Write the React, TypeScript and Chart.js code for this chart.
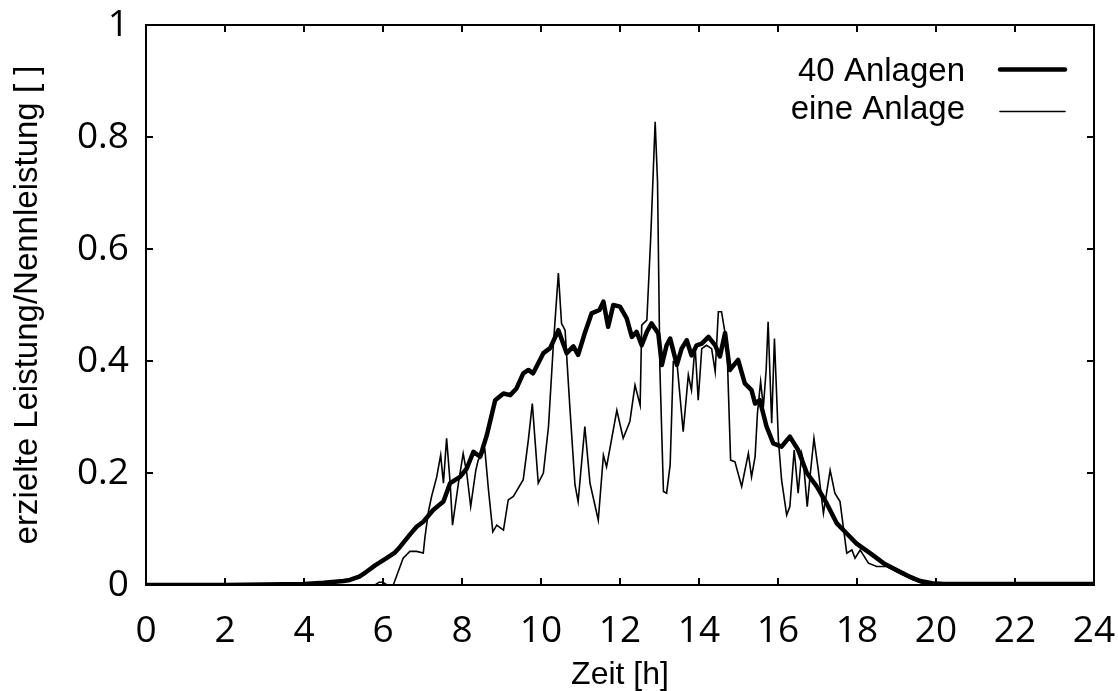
import React, { useEffect, useRef } from 'react';
import { Chart, registerables } from 'chart.js';

Chart.register(...registerables);

// 40 Anlagen (aggregated)
const hours40 = [
  0, 1, 2, 3, 4, 4.5, 5.0, 5.16, 5.4, 5.59,
  5.8, 6.09, 6.3, 6.43, 6.68, 6.85, 7.02, 7.27, 7.53, 7.7,
  7.95, 8.12, 8.29, 8.46, 8.63, 8.84, 9.05, 9.22, 9.38, 9.55,
  9.68, 9.8, 10.06, 10.23, 10.44, 10.65, 10.82, 10.94, 11.11, 11.28,
  11.48, 11.58, 11.7, 11.83, 12.0, 12.17, 12.3, 12.42, 12.55, 12.68,
  12.8, 12.97, 13.06, 13.18, 13.27, 13.44, 13.56, 13.69, 13.81, 13.94,
  14.07, 14.24, 14.41, 14.53, 14.66, 14.78, 14.99, 15.16, 15.33, 15.42,
  15.54, 15.71, 15.88, 16.09, 16.3, 16.51, 16.73, 16.98, 17.23, 17.49,
  17.74, 17.99, 18.33, 18.67, 19.0, 19.3, 19.6, 19.9, 20.2, 21,
  22, 23, 24,
];
const values40 = [
  0, 0, 0, 0.001, 0.002, 0.004, 0.007, 0.009, 0.015, 0.024,
  0.035, 0.048, 0.058, 0.068, 0.09, 0.104, 0.113, 0.134, 0.149, 0.182,
  0.193, 0.208, 0.238, 0.229, 0.268, 0.33, 0.342, 0.339, 0.351, 0.378,
  0.384, 0.378, 0.414, 0.423, 0.455, 0.414, 0.426, 0.411, 0.45, 0.485,
  0.491, 0.506, 0.461, 0.5, 0.497, 0.476, 0.443, 0.452, 0.428, 0.452,
  0.467, 0.449, 0.393, 0.428, 0.44, 0.393, 0.422, 0.437, 0.41, 0.428,
  0.431, 0.443, 0.428, 0.408, 0.45, 0.384, 0.402, 0.36, 0.348, 0.324,
  0.33, 0.283, 0.253, 0.247, 0.265, 0.241, 0.2, 0.176, 0.146, 0.11,
  0.092, 0.074, 0.057, 0.039, 0.027, 0.016, 0.007, 0.003, 0.002, 0.002,
  0.002, 0.002, 0.002,
];

// eine Anlage (single plant)
const hours1 = [
  0, 5.8, 5.9, 6.0, 6.1, 6.26, 6.51, 6.68, 6.85, 7.02,
  7.06, 7.15, 7.23, 7.36, 7.46, 7.53, 7.61, 7.7, 7.76, 7.91,
  8.03, 8.12, 8.22, 8.35, 8.41, 8.58, 8.67, 8.78, 8.88, 9.05,
  9.17, 9.3, 9.55, 9.68, 9.78, 9.93, 10.06, 10.19, 10.31, 10.44,
  10.52, 10.61, 10.73, 10.86, 10.94, 11.11, 11.24, 11.45, 11.58, 11.66,
  11.92, 12.08, 12.25, 12.38, 12.51, 12.55, 12.68, 12.78, 12.89, 12.95,
  13.01, 13.1, 13.18, 13.27, 13.35, 13.44, 13.6, 13.73, 13.81, 13.9,
  13.98, 14.07, 14.19, 14.32, 14.41, 14.49, 14.57, 14.66, 14.72, 14.8,
  14.91, 15.08, 15.25, 15.33, 15.42, 15.48, 15.56, 15.63, 15.7, 15.75,
  15.84, 15.91, 16.01, 16.09, 16.22, 16.3, 16.41, 16.51, 16.6, 16.64,
  16.74, 16.81, 16.91, 17.02, 17.15, 17.32, 17.44, 17.57, 17.74, 17.87,
  17.95, 18.08, 18.29, 18.5, 18.75, 19.1, 19.4, 19.7, 20, 24,
];
const values1 = [
  0, 0, 0.005, 0.005, 0, 0, 0.048, 0.06, 0.06, 0.057,
  0.084, 0.131, 0.158, 0.193, 0.232, 0.182, 0.262, 0.182, 0.107, 0.182,
  0.235, 0.2, 0.14, 0.205, 0.223, 0.241, 0.17, 0.095, 0.107, 0.098,
  0.152, 0.158, 0.188, 0.259, 0.324, 0.182, 0.2, 0.283, 0.426, 0.557,
  0.467, 0.455, 0.318, 0.179, 0.149, 0.283, 0.182, 0.116, 0.232, 0.211,
  0.312, 0.262, 0.292, 0.357, 0.321, 0.464, 0.473, 0.624, 0.827, 0.72,
  0.387, 0.167, 0.164, 0.215, 0.399, 0.399, 0.274, 0.375, 0.348, 0.428,
  0.33, 0.422, 0.428, 0.422, 0.381, 0.488, 0.488, 0.45, 0.4, 0.223,
  0.22, 0.176, 0.235, 0.193, 0.229, 0.307, 0.363, 0.318, 0.384, 0.47,
  0.289, 0.44, 0.259, 0.188, 0.125, 0.14, 0.241, 0.164, 0.235, 0.223,
  0.14, 0.193, 0.262, 0.205, 0.128, 0.205, 0.164, 0.149, 0.057, 0.0625,
  0.048, 0.0625, 0.039, 0.033, 0.033, 0.02, 0.01, 0.002, 0, 0,
];

const xTickLabels = ['0', '2', '4', '6', '8', '10', '12', '14', '16', '18', '20', '22', '24'];
const yTickLabels = ['0', '0.2', '0.4', '0.6', '0.8', '1'];
const seriesLabels = ['40 Anlagen', 'eine Anlage'];
const xTitle = 'Zeit [h]';
const yTitle = 'erzielte Leistung/Nennleistung [ ]';

const toPoints = (xs: number[], ys: number[]) => xs.map((x, i) => ({ x, y: ys[i] }));

const framePlugin = {
  id: 'gnuFrame',
  afterDatasetsDraw(chart: any) {
    const { ctx, chartArea: a, scales } = chart;
    ctx.save();
    ctx.strokeStyle = '#000';
    ctx.lineWidth = 2;
    ctx.strokeRect(a.left, a.top, a.right - a.left, a.bottom - a.top);
    const L = 7;
    ctx.beginPath();
    scales.x.ticks.forEach((t: any) => {
      const px = scales.x.getPixelForValue(t.value);
      ctx.moveTo(px, a.bottom);
      ctx.lineTo(px, a.bottom - L);
      ctx.moveTo(px, a.top);
      ctx.lineTo(px, a.top + L);
    });
    scales.y.ticks.forEach((t: any) => {
      const py = scales.y.getPixelForValue(t.value);
      ctx.moveTo(a.left, py);
      ctx.lineTo(a.left + L, py);
      ctx.moveTo(a.right, py);
      ctx.lineTo(a.right - L, py);
    });
    ctx.stroke();

    // legend inside plot (gnuplot style)
    ctx.font = '33px "Liberation Sans", Arial, sans-serif';
    ctx.fillStyle = '#000';
    ctx.textAlign = 'right';
    ctx.textBaseline = 'alphabetic';
    chart.data.datasets.forEach((ds: any, i: number) => {
      const base = a.top + 55.5 + i * 38;
      ctx.fillText(ds.label, a.right - 129, base);
      const ly = a.top + 44.5 + i * 42;
      ctx.beginPath();
      ctx.lineWidth = ds.borderWidth;
      ctx.lineCap = 'round';
      ctx.moveTo(a.right - 94, ly);
      ctx.lineTo(a.right - 29, ly);
      ctx.stroke();
    });
    ctx.restore();
  },
};

export default function App() {
  const canvasRef = useRef<HTMLCanvasElement | null>(null);

  useEffect(() => {
    if (!canvasRef.current) return;
    const tickFont = { family: '"Open Sans", "Noto Sans", sans-serif', size: 37 };
    const titleFont = { family: '"Liberation Sans", Arial, sans-serif', size: 32, lineHeight: 1.0 };
    const chart = new Chart(canvasRef.current, {
      type: 'line',
      data: {
        datasets: [
          {
            label: seriesLabels[0],
            data: toPoints(hours40, values40),
            borderColor: '#000',
            borderWidth: 4.5,
            pointRadius: 0,
            tension: 0,
            fill: false,
            borderJoinStyle: 'round',
            borderCapStyle: 'round',
          },
          {
            label: seriesLabels[1],
            data: toPoints(hours1, values1),
            borderColor: '#000',
            borderWidth: 1.6,
            pointRadius: 0,
            tension: 0,
            fill: false,
          },
        ],
      },
      options: {
        animation: false,
        responsive: true,
        maintainAspectRatio: false,
        layout: { padding: { top: 25, right: 24, left: 0, bottom: 0 } },
        plugins: {
          legend: { display: false },
          tooltip: { enabled: false },
        },
        scales: {
          x: {
            type: 'linear',
            min: 0,
            max: 24,
            grid: { display: false, drawTicks: false },
            border: { display: false },
            ticks: {
              stepSize: 2,
              color: '#000',
              font: tickFont,
              padding: 24,
              maxRotation: 0,
              autoSkip: false,
              callback: (_v: any, i: number) => xTickLabels[i],
            },
            title: { display: true, text: xTitle, color: '#000', font: titleFont, padding: { top: 11, bottom: 0 } },
            afterFit: (s: any) => {
              s.height = 106;
              s.paddingLeft = 0;
              s.paddingRight = 0;
            },
          },
          y: {
            type: 'linear',
            min: 0,
            max: 1,
            grid: { display: false, drawTicks: false },
            border: { display: false },
            ticks: {
              stepSize: 0.2,
              color: '#000',
              font: tickFont,
              padding: 17,
              callback: (_v: any, i: number) => yTickLabels[i],
            },
            title: {
              display: true,
              text: yTitle,
              color: '#000',
              font: { ...titleFont, size: 33 },
              padding: { top: 11, bottom: 0 },
            },
            afterFit: (s: any) => {
              s.width = 146;
              s.paddingTop = 0;
              s.paddingBottom = 0;
            },
          },
        },
      },
      plugins: [framePlugin],
    } as any);
    return () => chart.destroy();
  }, []);

  return (
    <div style={{ position: 'absolute', left: 0, top: 0, width: 1118, height: 691, background: '#fff' }}>
      <canvas ref={canvasRef} />
    </div>
  );
}
